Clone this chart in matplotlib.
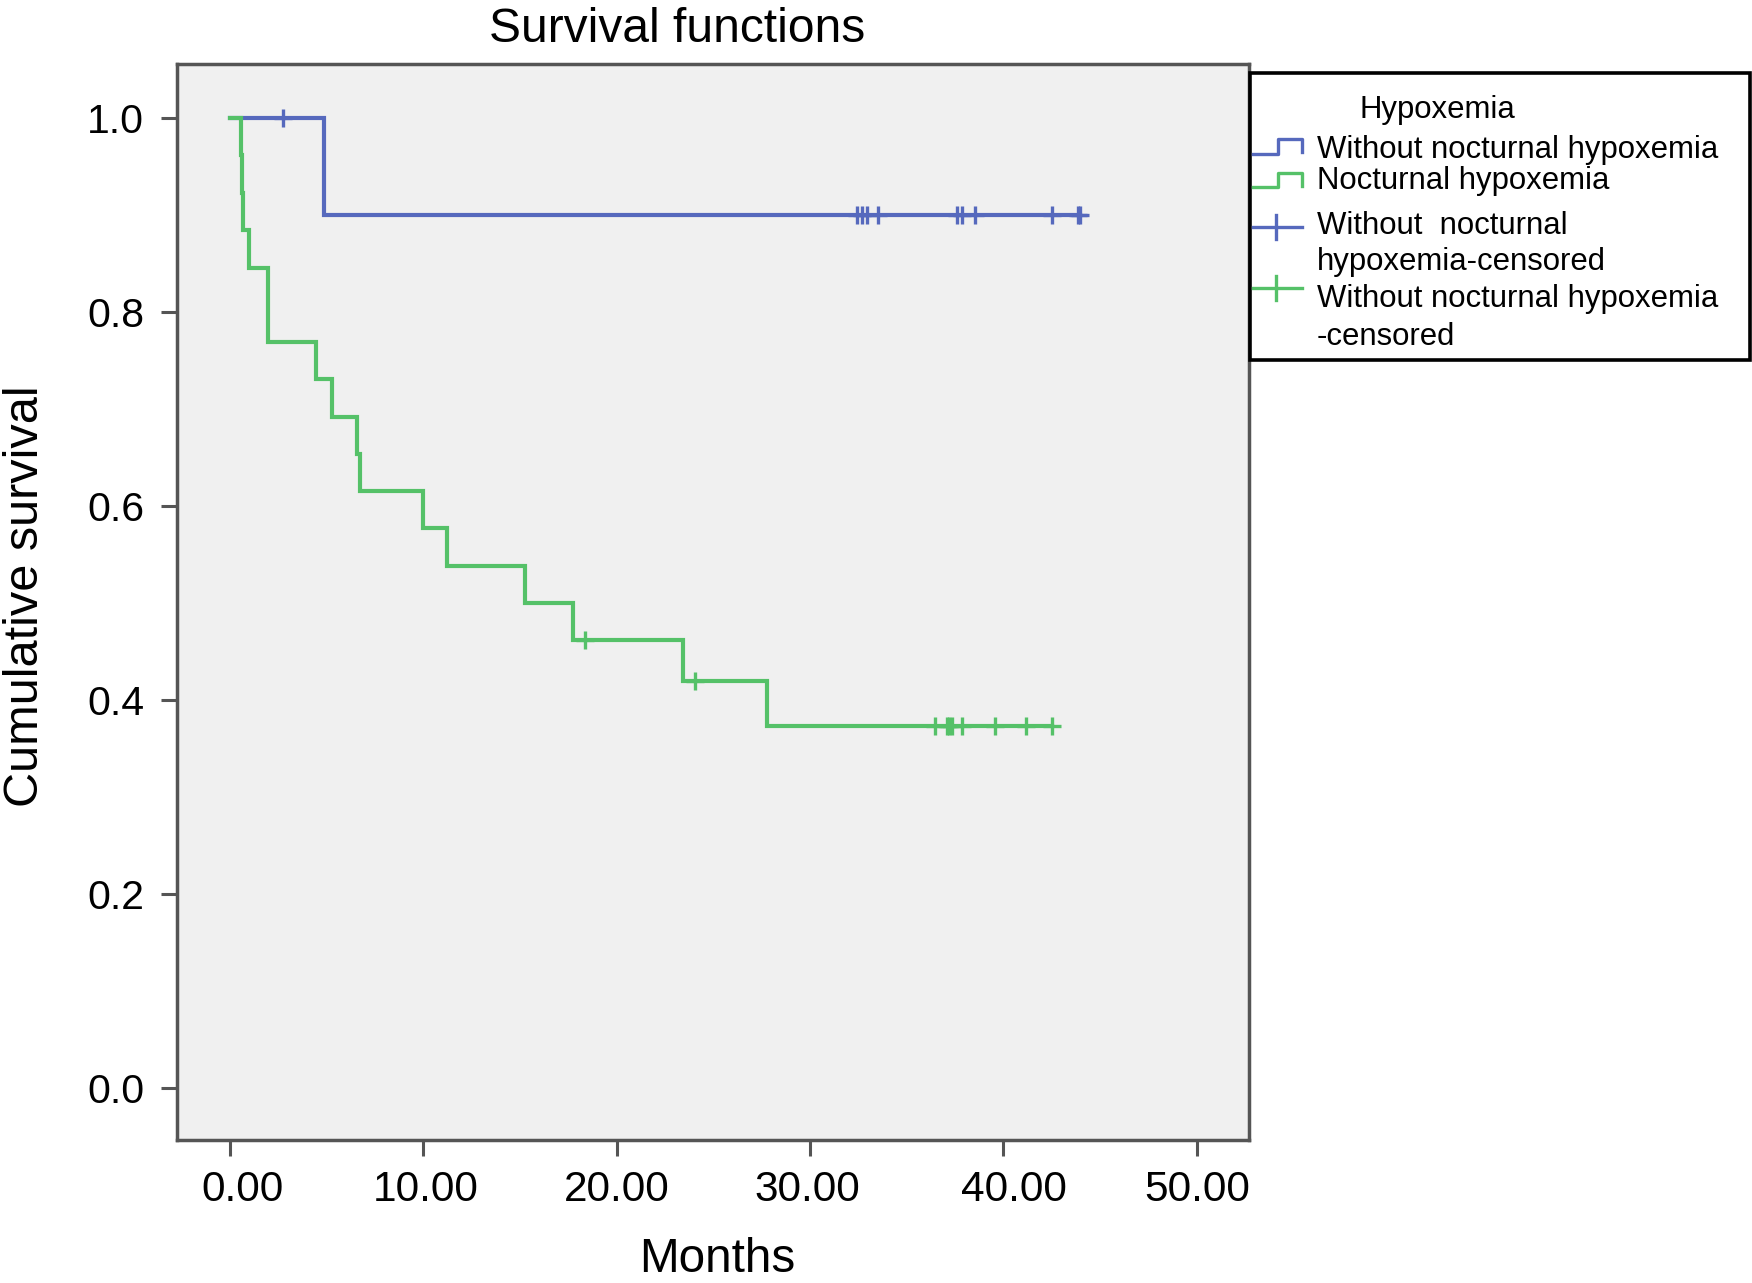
import matplotlib
matplotlib.use('Agg')
import matplotlib.pyplot as plt
import matplotlib.transforms as mtransforms
import numpy as np
from matplotlib.lines import Line2D
from matplotlib.patches import Rectangle

plt.rcParams['font.family'] = ['Liberation Sans', 'DejaVu Sans']

# ---------------- data ----------------
title = "Survival functions"
x_label = "Months"
y_label = "Cumulative survival"
x_ticks = [0, 10, 20, 30, 40, 50]
x_tick_labels = ["0.00", "10.00", "20.00", "30.00", "40.00", "50.00"]
y_ticks = [0.0, 0.2, 0.4, 0.6, 0.8, 1.0]
y_tick_labels = ["0.0", "0.2", "0.4", "0.6", "0.8", "1.0"]

legend_title = "Hypoxemia"
legend_labels = ["Without nocturnal hypoxemia",
                 "Nocturnal hypoxemia",
                 "Without  nocturnal\nhypoxemia-censored",
                 "Without nocturnal hypoxemia\n-censored"]

# Without nocturnal hypoxemia (blue)
blue_event_times = [4.86]
blue_event_surv = [0.90]
blue_censor_times = [2.76, 32.41, 32.68, 32.94, 33.54, 37.59, 37.85, 38.54,
                     42.51, 43.89, 43.97]

# Nocturnal hypoxemia (green)
green_event_times = [0.55, 0.60, 0.65, 0.98, 1.95, 4.43, 5.26, 6.55, 6.73,
                     9.97, 11.21, 15.26, 17.73, 23.42, 27.80]
green_event_surv = [0.962, 0.923, 0.885, 0.846, 0.769, 0.731, 0.692, 0.654,
                    0.615, 0.577, 0.538, 0.500, 0.462, 0.420, 0.373]
green_censor_times = [18.37, 24.06, 36.47, 37.10, 37.20, 37.35, 37.85, 39.58,
                      41.18, 42.51]

blue = '#5669bd'
green = '#55c168'

# ---------------- figure ----------------
W, H = 1752, 1283
fig = plt.figure(figsize=(W / 100, H / 100), dpi=100)
fig.patch.set_facecolor('white')


def fx(px):
    return px / W


def fy(py):
    return 1 - py / H


ax = fig.add_axes([fx(176.7), fy(1140), fx(1248.5) - fx(176.7), fy(64) - fy(1140)])
ax.set_facecolor('#f0f0f0')
ax.set_xlim(-2.76, 52.69)
ax.set_ylim(-0.054, 1.056)


def surv_at(times, surv, t):
    s = 1.0
    for ti, si in zip(times, surv):
        if ti <= t:
            s = si
    return s


def draw_curve(ev_t, ev_s, cens_t, color, z):
    end = max(cens_t + ev_t)
    xs = [0.0] + list(ev_t) + [end]
    ys = [1.0] + list(ev_s) + [ev_s[-1]]
    ax.step(xs, ys, where='post', color=color, lw=3.0, zorder=z,
            solid_joinstyle='miter')
    cy = [surv_at(ev_t, ev_s, t) for t in cens_t]
    ax.plot(cens_t, cy, linestyle='none', marker='+', markersize=13,
            markeredgewidth=2.4, color=color, zorder=z + 0.1)


draw_curve(blue_event_times, blue_event_surv, blue_censor_times, blue, 3)
draw_curve(green_event_times, green_event_surv, green_censor_times, green, 4)

ax.set_xticks(x_ticks, x_tick_labels)
ax.set_yticks(y_ticks, y_tick_labels)
ax.tick_params(axis='both', direction='out', length=11.5, width=2.2,
               color='#555555', labelcolor='black')
ax.tick_params(axis='x', pad=10, labelsize=30.5)
ax.tick_params(axis='y', pad=12, labelsize=29.5)
for s in ax.spines.values():
    s.set_color('#555555')
    s.set_linewidth(2.5)

# small horizontal nudges of x tick labels as in the original rendering
x_label_nudge_px = [12, 2, 0, -3, 11, 1]
for lab, dx in zip(ax.get_xticklabels(), x_label_nudge_px):
    lab.set_transform(lab.get_transform() +
                      mtransforms.ScaledTranslation(dx / 100, 0, fig.dpi_scale_trans))

# titles
fig.text(fx(677), fy(41.7), title, ha='center', va='baseline', fontsize=34.5)
fig.text(fx(717), fy(1272), x_label, ha='center', va='baseline', fontsize=34.3)
fig.text(fx(26), fy(596), y_label, ha='center', va='center', rotation=90,
         fontsize=35)

# ---------------- legend (manual) ----------------
rect = Rectangle((fx(1250), fy(360)), fx(1750) - fx(1250), fy(73) - fy(360),
                 transform=fig.transFigure, facecolor='white',
                 edgecolor='black', lw=2.6, zorder=5)
fig.add_artist(rect)

lfs = 22.4
fig.text(fx(1360), fy(118), legend_title, ha='left', va='baseline',
         fontsize=lfs, zorder=6)

# step icons
for (lo, hi, end, col) in [(154, 139, 152, blue), (187, 173, 186, green)]:
    fig.add_artist(Line2D([fx(1253), fx(1278), fx(1278), fx(1302), fx(1302)],
                          [fy(lo), fy(lo), fy(hi), fy(hi), fy(end)],
                          transform=fig.transFigure, color=col, lw=2.4,
                          zorder=6))
# censor icons
for (yc, col) in [(227, blue), (288, green)]:
    fig.add_artist(Line2D([fx(1253), fx(1302)], [fy(yc), fy(yc)],
                          transform=fig.transFigure, color=col, lw=2.4,
                          zorder=6))
    fig.add_artist(Line2D([fx(1276), fx(1276)], [fy(yc - 12), fy(yc + 12)],
                          transform=fig.transFigure, color=col, lw=2.4,
                          zorder=6))

baselines = [[158], [189], [234, 270], [307, 345]]
for lab, bls in zip(legend_labels, baselines):
    for line, bl in zip(lab.split('\n'), bls):
        fig.text(fx(1317), fy(bl), line, ha='left', va='baseline',
                 fontsize=lfs, zorder=6)

fig.savefig('out.png', dpi=100)
